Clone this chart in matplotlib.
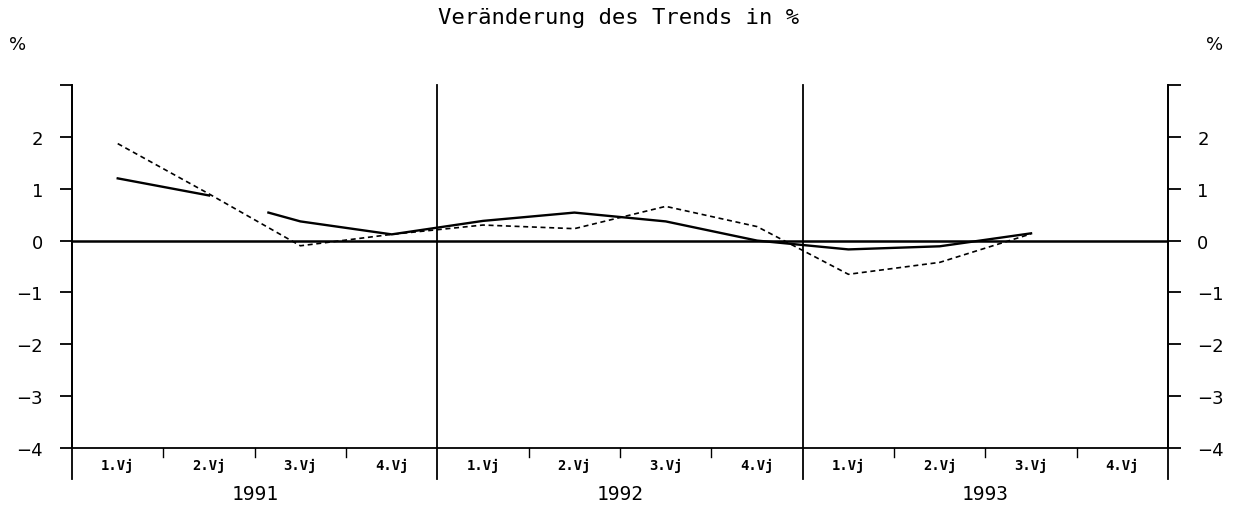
import numpy as np
import matplotlib
matplotlib.use('Agg')
import matplotlib.pyplot as plt

# quarter positions (0 = start of 1991), values in %
years = ['1991', '1992', '1993']
quarters = ['1.Vj', '2.Vj', '3.Vj', '4.Vj']

solid_x = [0.5, 1.5, np.nan, 2.15, 2.5, 3.5, 4.5, 5.5, 6.5, 7.5, 8.5, 9.5, 10.5]
solid_y = [1.2, 0.87, np.nan, 0.54, 0.37, 0.12, 0.38, 0.54, 0.37, 0.0, -0.17, -0.11, 0.14]

dashed_x = [0.5, 1.5, 2.5, 3.5, 4.5, 5.5, 6.5, 7.5, 8.5, 9.5, 10.5]
dashed_y = [1.87, 0.9, -0.1, 0.12, 0.3, 0.23, 0.66, 0.27, -0.65, -0.42, 0.13]

yticks = [3, 2, 1, 0, -1, -2, -3, -4]
ytick_labels = ['', '2', '1', '0', '\u22121', '\u22122', '\u22123', '\u22124']

fig = plt.figure(figsize=(12.38, 5.06), dpi=100)
ax = fig.add_axes([0.0582, 0.1126, 0.8853, 0.7174])
ax.set_xlim(0, 12)
ax.set_ylim(-4, 3)

# zero line and year separators
ax.axhline(0, color='black', lw=1.8)
for xv in [0, 4, 8, 12]:
    ax.plot([xv, xv], [-4.6, 3], color='black', lw=1.3, clip_on=False)
for q in range(1, 12):
    if q % 4:
        ax.plot([q, q], [-4, -4.17], color='black', lw=1.0, clip_on=False)

ax.plot(solid_x, solid_y, color='black', lw=1.7)
ax.plot(dashed_x, dashed_y, color='black', lw=1.2, ls=(0, (3, 2.2)))

ax.spines['top'].set_visible(False)
for s in ['left', 'right', 'bottom']:
    ax.spines[s].set_linewidth(1.3)

ax.set_xticks([])
ax.set_yticks(yticks)
ax.set_yticklabels(ytick_labels, fontsize=13)
ax.tick_params(axis='y', which='both', direction='out', length=9, width=1.3,
               left=True, right=True, labelleft=True, labelright=True, pad=12)

# quarter and year labels
for i in range(12):
    ax.text(i + 0.5, -4.33, quarters[i % 4], ha='center', va='center',
            fontsize=10, family='DejaVu Sans Mono', weight='bold')
for i, yr in enumerate(years):
    ax.text(4 * i + 2, -4.87, yr, ha='center', va='center', fontsize=14,
            family='DejaVu Sans Mono')

fig.text(0.5, 0.964, 'Veränderung des Trends in %', ha='center', va='center',
         fontsize=16, family='DejaVu Sans Mono')
fig.text(18 / 1238, 1 - 45 / 506, '%', ha='center', va='center', fontsize=13)
fig.text(1215 / 1238, 1 - 45 / 506, '%', ha='center', va='center', fontsize=13)

fig.savefig('out.png', dpi=100)
